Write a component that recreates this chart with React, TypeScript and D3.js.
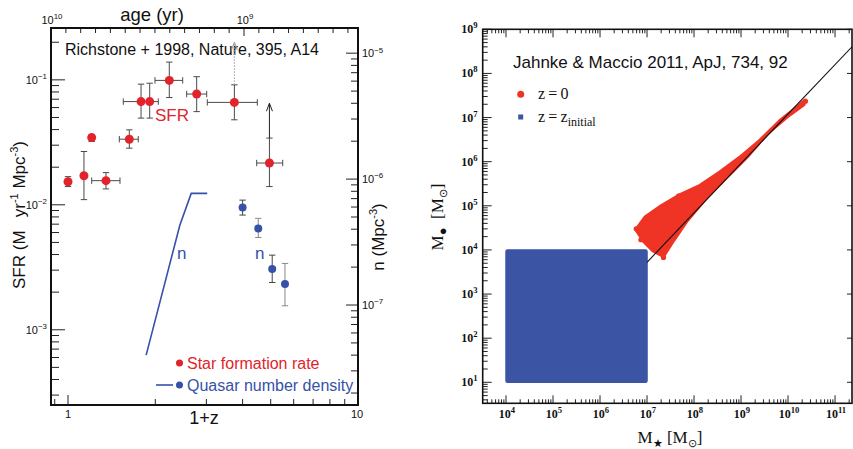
import React from 'react';
import * as d3 from 'd3';

// ---------- Left panel data (Richstone+1998) ----------
const sfrZ = [1.0, 1.135, 1.207, 1.352, 1.627, 1.786, 1.913, 2.235, 2.778, 3.747, 4.95];
const sfrVal = [0.0153, 0.0171, 0.0345, 0.0156, 0.0335, 0.067, 0.067, 0.099, 0.077, 0.066, 0.0216];
const sfrHi = [0.0168, 0.0267, 0.0363, 0.0181, 0.0398, 0.0924, 0.094, 0.1387, 0.106, 0.0912, 0.0342];
const sfrLo = [0.014, 0.011, 0.0321, 0.0134, 0.0284, 0.0494, 0.0494, 0.0722, 0.0557, 0.0479, 0.014];
const sfrZLo: (number | null)[] = [null, null, null, 1.207, 1.503, 1.551, null, 1.995, 2.566, 3.022, 4.474];
const sfrZHi: (number | null)[] = [null, null, null, 1.511, 1.747, 2.048, null, 2.486, 3.008, 4.496, 5.5];
const limitIdx = [9, 10];
const limitTop = [0.2, 0.065];

const qsoZ = [4.0, 4.53, 5.06, 5.6];
const qsoN = [5.96e-7, 4.06e-7, 1.93e-7, 1.47e-7];
const qsoHi = [6.81e-7, 4.88e-7, 2.49e-7, 2.14e-7];
const qsoLo = [5.18e-7, 3.44e-7, 1.51e-7, 9.86e-8];
const nLineZ = [1.86, 2.43, 2.66, 3.02];
const nLineN = [4.0e-8, 4.3e-7, 7.7e-7, 7.7e-7];

const sfrTickLabels = [1e-1, 1e-2, 1e-3];
const nTickLabels = [1e-5, 1e-6, 1e-7];
const zTickLabels = [1, 10];
const ageTickLabels = [1e10, 1e9];
const ageTicksPerDecade = 13;

// ---------- Right panel data (Jahnke & Maccio 2011) ----------
const initLogMstar = [4, 7];
const initLogMbh = [1, 4];
const cloudUpperX = [6.78, 6.96, 7.31, 7.67, 8.13, 8.55, 8.98, 9.40, 9.83, 10.20, 10.33];
const cloudUpperY = [4.48, 4.74, 5.00, 5.23, 5.46, 5.76, 6.10, 6.48, 6.93, 7.24, 7.36];
const cloudLowerX = [10.34, 9.97, 9.55, 9.12, 8.70, 8.27, 7.85, 7.56, 7.35, 7.13, 6.92, 6.78];
const cloudLowerY = [7.30, 7.01, 6.63, 6.10, 5.65, 5.19, 4.66, 4.21, 3.86, 3.98, 4.21, 4.44];
const outlierX = [6.77, 6.87, 7.35, 7.67, 10.37];
const outlierY = [4.48, 4.23, 3.83, 5.22, 7.37];
const relationNorm = 8.2;
const relationSlope = 1.12;
const relationPivot = 11;
const relationStart = 7;
const mStarLabels = [4, 5, 6, 7, 8, 9, 10, 11];
const mBhLabels = [1, 2, 3, 4, 5, 6, 7, 8, 9];

const RED = '#e3232b';
const BLUE = '#3651a8';
const CLOUD = '#ef3324';
const SQUARE = '#3b54a4';
const SANS = '"Liberation Sans", Arial, Helvetica, sans-serif';
const SERIF = '"Liberation Serif", "Times New Roman", serif';

function logTicks(lo: number, hi: number) {
  const out: { v: number; major: boolean }[] = [];
  const d0 = Math.floor(Math.log10(lo));
  const d1 = Math.ceil(Math.log10(hi));
  for (let d = d0; d <= d1; d++) {
    for (let m = 1; m <= 9; m++) {
      const v = m * Math.pow(10, d);
      if (v >= lo * 0.9999 && v <= hi * 1.0001) out.push({ v, major: m === 1 });
    }
  }
  return out;
}

function expStr(v: number) {
  const e = Math.round(Math.log10(v));
  return e < 0 ? '\u2212' + Math.abs(e) : String(e);
}

function Pow(props: { x: number; y: number; v: number; anchor: string; size: number; family: string; weight?: any; fill?: string }) {
  const { x, y, v, anchor, size, family, weight, fill } = props;
  return (
    <text x={x} y={y} textAnchor={anchor as any} fontSize={size} fontFamily={family} fontWeight={weight} fill={fill || '#111'}>
      10<tspan dy={-size * 0.42} fontSize={size * 0.72}>{expStr(v)}</tspan>
    </text>
  );
}

function LeftPanel() {
  const L = 51, R = 358, T = 28, B = 405;
  const x = d3.scaleLog().domain([Math.pow(10, -17 / 290), 10]).range([L, R]);
  const yS = d3.scaleLog().domain([2.5e-4, 0.26]).range([B, T]);
  const yN = d3.scaleLog().domain([1.607e-8, 1.585e-5]).range([B, T]);
  const age = d3.scaleLog().domain([1e10, 1e9]).range([L, 244]);
  const ageDecPx = 244 - L;
  const nAge = Math.floor(((R - L) / ageDecPx) * ageTicksPerDecade);
  const ageTicks = d3.range(0, nAge + 1).map((k) => Math.pow(10, 10 - k / ageTicksPerDecade));

  const sfrT = logTicks(2.5e-4, 0.26);
  const nT = logTicks(1.607e-8, 1.585e-5);
  const zT = logTicks(Math.pow(10, -17 / 290), 10);

  const line = d3.line<number>().x((_, i) => x(nLineZ[i])).y((d) => yN(d));
  const ebc = '#4a4a4a';
  const cap = 3.2;

  return (
    <g>
      {sfrT.map((t, i) => (
        <line key={'sl' + i} x1={L} x2={L + (t.major ? 14 : 8)} y1={yS(t.v)} y2={yS(t.v)} stroke="#222" strokeWidth={1} />
      ))}
      {nT.map((t, i) => (
        <line key={'nr' + i} x1={R} x2={R - (t.major ? 12 : 7)} y1={yN(t.v)} y2={yN(t.v)} stroke="#222" strokeWidth={1} />
      ))}
      {zT.map((t, i) => (
        <line key={'zb' + i} x1={x(t.v)} x2={x(t.v)} y1={B} y2={B - (t.major ? 10 : 6)} stroke="#222" strokeWidth={1} />
      ))}
      {ageTicks.map((a, i) => {
        const major = i % ageTicksPerDecade === 0;
        return <line key={'at' + i} x1={age(a)} x2={age(a)} y1={T} y2={T + (major ? 8 : 5)} stroke="#222" strokeWidth={1} />;
      })}
      <rect x={L} y={T} width={R - L} height={B - T} fill="none" stroke="#111" strokeWidth={2} />

      {sfrTickLabels.map((v) => (
        <Pow key={'sfl' + v} x={47} y={yS(v) + 4} v={v} anchor="end" size={11} family={SANS} />
      ))}
      {nTickLabels.map((v) => (
        <Pow key={'nfl' + v} x={362} y={yN(v) + 4} v={v} anchor="start" size={11} family={SANS} />
      ))}
      {zTickLabels.map((v) => (
        <text key={'zl' + v} x={x(v) - (v === 10 ? 1 : 0)} y={418} textAnchor="middle" fontSize={11} fontFamily={SANS} fill="#111">{v}</text>
      ))}
      {ageTickLabels.map((v) => (
        <Pow key={'al' + v} x={age(v) + 1} y={24} v={v} anchor="middle" size={11} family={SANS} />
      ))}

      <text x={152} y={21} textAnchor="middle" fontSize={18.5} fontFamily={SANS} fill="#111">age (yr)</text>
      <text x={204} y={424} textAnchor="middle" fontSize={18} fontFamily={SANS} fill="#111">1+z</text>
      <text transform="translate(25,215) rotate(-90)" textAnchor="middle" fontSize={17} fontFamily={SANS} fill="#111">
        SFR (M{'\u2002'} yr<tspan dy={-7} fontSize={11}>-1</tspan><tspan dy={7}> Mpc</tspan><tspan dy={-7} fontSize={11}>-3</tspan><tspan dy={7}>)</tspan>
      </text>
      <text transform="translate(384,237) rotate(-90)" textAnchor="middle" fontSize={17} fontFamily={SANS} fill="#111">
        n (Mpc<tspan dy={-7} fontSize={11}>-3</tspan><tspan dy={7}>)</tspan>
      </text>

      <text x={65} y={55} fontSize={16} fontFamily={SANS} fill="#111">Richstone + 1998, Nature, 395, A14</text>

      <path d={line(nLineN) || ''} fill="none" stroke={BLUE} strokeWidth={1.6} strokeLinejoin="miter" />

      {sfrZ.map((z, i) => {
        const cx = x(z);
        const zl = sfrZLo[i], zh = sfrZHi[i];
        return (
          <g key={'eb' + i} stroke={ebc} strokeWidth={1}>
            <line x1={cx} x2={cx} y1={yS(sfrLo[i])} y2={yS(sfrHi[i])} />
            <line x1={cx - cap} x2={cx + cap} y1={yS(sfrLo[i])} y2={yS(sfrLo[i])} />
            <line x1={cx - cap} x2={cx + cap} y1={yS(sfrHi[i])} y2={yS(sfrHi[i])} />
            {zl != null && zh != null && (
              <g>
                <line x1={x(zl)} x2={x(zh)} y1={yS(sfrVal[i])} y2={yS(sfrVal[i])} />
                <line x1={x(zl)} x2={x(zl)} y1={yS(sfrVal[i]) - cap} y2={yS(sfrVal[i]) + cap} />
                <line x1={x(zh)} x2={x(zh)} y1={yS(sfrVal[i]) - cap} y2={yS(sfrVal[i]) + cap} />
              </g>
            )}
          </g>
        );
      })}
      {limitIdx.map((idx, k) => {
        const cx = x(sfrZ[idx]);
        const y0 = yS(sfrHi[idx]);
        const y1 = yS(limitTop[k]);
        const dotted = k === 0;
        return (
          <g key={'lim' + k} stroke={dotted ? '#999' : '#222'} strokeWidth={1} fill="none">
            <line x1={cx} x2={cx} y1={y0} y2={y1} strokeDasharray={dotted ? '1.5 1.5' : undefined} />
            <path d={`M${cx - 3},${y1 + 8} L${cx},${y1} L${cx + 3},${y1 + 8}`} />
          </g>
        );
      })}
      {sfrZ.map((z, i) => (
        <circle key={'sp' + i} cx={x(z)} cy={yS(sfrVal[i])} r={4.5} fill={RED} />
      ))}

      {qsoZ.map((z, i) => {
        const cx = x(z);
        return (
          <g key={'q' + i}>
            <g stroke={i % 2 === 0 ? '#444' : '#888'} strokeWidth={1}>
              <line x1={cx} x2={cx} y1={yN(qsoLo[i])} y2={yN(qsoHi[i])} />
              <line x1={cx - cap} x2={cx + cap} y1={yN(qsoLo[i])} y2={yN(qsoLo[i])} />
              <line x1={cx - cap} x2={cx + cap} y1={yN(qsoHi[i])} y2={yN(qsoHi[i])} />
            </g>
            <circle cx={cx} cy={yN(qsoN[i])} r={4} fill={BLUE} />
          </g>
        );
      })}

      <text x={155} y={121} fontSize={17} fontFamily={SANS} fill={RED}>SFR</text>
      <text x={177} y={259} fontSize={17} fontFamily={SANS} fill={BLUE}>n</text>
      <text x={255} y={259} fontSize={17} fontFamily={SANS} fill={BLUE}>n</text>

      <circle cx={179.5} cy={363} r={3.5} fill={RED} />
      <text x={187} y={368.5} fontSize={16} fontFamily={SANS} fill={RED}>Star formation rate</text>
      <line x1={156} x2={173} y1={385} y2={385} stroke={BLUE} strokeWidth={1.6} />
      <circle cx={179.5} cy={385} r={3.5} fill={BLUE} />
      <text x={187} y={390.5} fontSize={16} fontFamily={SANS} fill={BLUE}>Quasar number density</text>
    </g>
  );
}

function RightPanel() {
  const L = 482.7, R = 852, T = 29.3, B = 403.3;
  const x = d3.scaleLog().domain([Math.pow(10, 3.504), Math.pow(10, 11.361)]).range([L, R]);
  const y = d3.scaleLog().domain([Math.pow(10, 0.524), 1e9]).range([B, T]);
  const xT = logTicks(Math.pow(10, 3.504), Math.pow(10, 11.361));
  const yT = logTicks(Math.pow(10, 0.524), 1e9);
  const p = (lx: number) => Math.pow(10, lx);

  const cloudX = cloudUpperX.concat(cloudLowerX);
  const cloudY = cloudUpperY.concat(cloudLowerY);
  const cloudPath = d3
    .line<number>()
    .x((d) => x(p(d)))
    .y((_, i) => y(p(cloudY[i])))
    .curve(d3.curveLinearClosed)(cloudX);

  const relX = [relationStart, Math.log10(x.domain()[1])];
  const relPath = d3
    .line<number>()
    .x((d) => x(p(d)))
    .y((d) => y(p(relationNorm + relationSlope * (d - relationPivot))))(relX);

  return (
    <g>
      <defs>
        <clipPath id="rclip">
          <rect x={L} y={T} width={R - L} height={B - T} />
        </clipPath>
      </defs>
      <rect
        x={x(p(initLogMstar[0]))}
        y={y(p(initLogMbh[1]))}
        width={x(p(initLogMstar[1])) - x(p(initLogMstar[0]))}
        height={y(p(initLogMbh[0])) - y(p(initLogMbh[1]))}
        fill={SQUARE}
        stroke={SQUARE}
        strokeWidth={1.5}
        rx={1.5}
      />
      <path d={cloudPath || ''} fill={CLOUD} stroke={CLOUD} strokeWidth={3.5} strokeLinejoin="round" />
      {outlierX.map((v, i) => (
        <circle key={'o' + i} cx={x(p(v))} cy={y(p(outlierY[i]))} r={2.6} fill={CLOUD} />
      ))}
      <path d={relPath || ''} stroke="#111" strokeWidth={1.1} fill="none" clipPath="url(#rclip)" />

      {xT.map((t, i) => (
        <g key={'xt' + i} stroke="#222" strokeWidth={1}>
          <line x1={x(t.v)} x2={x(t.v)} y1={B} y2={B - (t.major ? 8 : 4)} />
          <line x1={x(t.v)} x2={x(t.v)} y1={T} y2={T + (t.major ? 8 : 4)} />
        </g>
      ))}
      {yT.map((t, i) => (
        <g key={'yt' + i} stroke="#222" strokeWidth={1}>
          <line x1={L} x2={L + (t.major ? 9 : 5)} y1={y(t.v)} y2={y(t.v)} />
          {t.major && <line x1={R} x2={R - 5} y1={y(t.v)} y2={y(t.v)} />}
        </g>
      ))}
      <rect x={L} y={T} width={R - L} height={B - T} fill="none" stroke="#111" strokeWidth={1.6} />

      {mStarLabels.map((e) => (
        <Pow key={'xl' + e} x={x(p(e)) + 1} y={418} v={p(e)} anchor="middle" size={12} family={SERIF} weight="bold" />
      ))}
      {mBhLabels.map((e) => (
        <Pow key={'yl' + e} x={477.5} y={y(p(e)) + 4} v={p(e)} anchor="end" size={12} family={SERIF} weight="bold" />
      ))}

      <text x={513} y={68} fontSize={17} fontFamily={SANS} fill="#111">Jahnke &amp; Maccio 2011, ApJ, 734, 92</text>

      <circle cx={520.7} cy={94.3} r={3.5} fill={CLOUD} />
      <text x={538} y={99} fontSize={16} fontFamily={SERIF} fill="#111">z{'\u2009'}={'\u2009'}0</text>
      <rect x={518.2} y={114.5} width={5} height={5} fill={SQUARE} />
      <text x={538} y={122} fontSize={16} fontFamily={SERIF} fill="#111">
        z{'\u2009'}={'\u2009'}z<tspan dy={4} fontSize={12}>initial</tspan>
      </text>

      <text transform="translate(443,217) rotate(-90)" textAnchor="middle" fontSize={17} fontFamily={SERIF} fill="#111">
        M<tspan dy={4} fontSize={13}>{'\u25CF'}</tspan><tspan dy={-4}>{'\u2002'}[M</tspan><tspan dy={4} fontSize={11}>{'\u2299'}</tspan><tspan dy={-4}>]</tspan>
      </text>
      <text x={670} y={443} textAnchor="middle" fontSize={17} fontFamily={SERIF} fill="#111">
        M<tspan dy={4} fontSize={11}>{'\u2605'}</tspan><tspan dy={-4}> [M</tspan><tspan dy={4} fontSize={11}>{'\u2299'}</tspan><tspan dy={-4}>]</tspan>
      </text>
    </g>
  );
}

export default function App() {
  return (
    <svg width={853} height={449} viewBox="0 0 853 449" style={{ position: 'absolute', left: 0, top: 0, background: '#fff' }}>
      <rect x={0} y={0} width={853} height={449} fill="#fff" />
      <LeftPanel />
      <RightPanel />
    </svg>
  );
}
